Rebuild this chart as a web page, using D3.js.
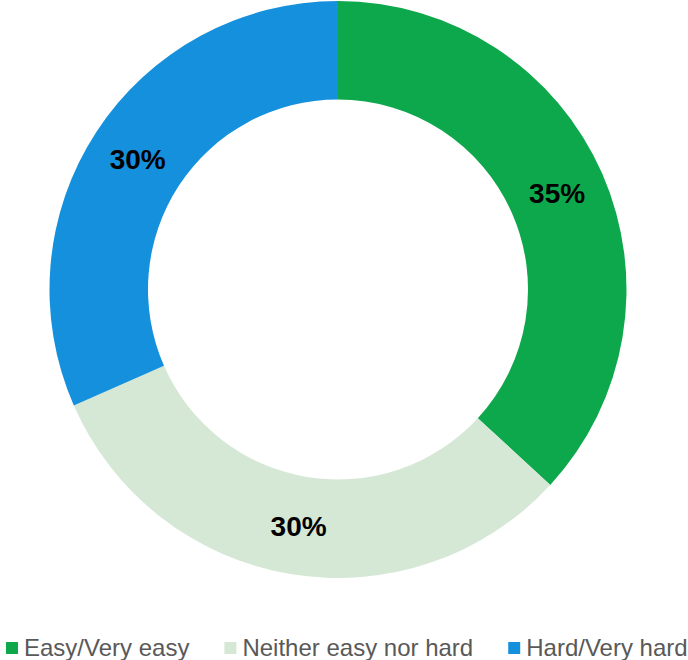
<!DOCTYPE html>
<html>
<head>
<meta charset="utf-8">
<script src="https://cdn.jsdelivr.net/npm/d3@7"></script>
<style>
  html, body { margin: 0; padding: 0; background: #fff; }
  svg { display: block; }
</style>
</head>
<body>
<svg id="svg"></svg>
<script>
const categories = ["Easy/Very easy", "Neither easy nor hard", "Hard/Very hard"];
const values = [35, 30, 30];
const labels = ["35%", "30%", "30%"];
const colors = ["#0ea84c", "#d5e7d5", "#1590dd"];

let layout = {"width": 688,
              "height": 660,
              "cx": 338,
              "cy": 289.5,
              "outer": 288.5,
              "inner": 190};

let svgElement = d3.select("#svg")
                   .attr("width", layout.width)
                   .attr("height", layout.height);

const data = categories.map((c, i) => ({name: c, value: values[i], label: labels[i], color: colors[i]}));

let pie = d3.pie()
            .value(d => d.value)
            .sort(null);

let arc = d3.arc()
            .innerRadius(layout.inner)
            .outerRadius(layout.outer);

let labelArc = d3.arc()
                 .innerRadius((layout.inner + layout.outer) / 2)
                 .outerRadius((layout.inner + layout.outer) / 2);

let g = svgElement.append("g")
                  .attr("transform", `translate(${layout.cx}, ${layout.cy})`);

let arcs = pie(data);

g.selectAll(".slice")
 .data(arcs)
 .join("path")
 .attr("class", "slice")
 .attr("d", arc)
 .attr("fill", d => d.data.color);

g.selectAll(".label")
 .data(arcs)
 .join("text")
 .attr("class", "label")
 .attr("transform", d => `translate(${labelArc.centroid(d)})`)
 .attr("text-anchor", "middle")
 .attr("dy", "0.36em")
 .attr("font-family", "'Liberation Sans', Arial, sans-serif")
 .attr("font-weight", "bold")
 .attr("font-size", 28)
 .attr("fill", "#000")
 .text(d => d.data.label);

// legend along the bottom
let legend = svgElement.append("g").attr("class", "legend");
let x = 6;
data.forEach(d => {
  legend.append("rect")
        .attr("x", x)
        .attr("y", 642)
        .attr("width", 12)
        .attr("height", 12)
        .attr("fill", d.color);
  let t = legend.append("text")
        .attr("x", x + 18)
        .attr("y", 656)
        .attr("font-family", "'Liberation Sans', Arial, sans-serif")
        .attr("font-size", 24)
        .attr("fill", "#595959")
        .text(d.name);
  x += 18 + t.node().getComputedTextLength() + 35;
});
</script>
</body>
</html>
